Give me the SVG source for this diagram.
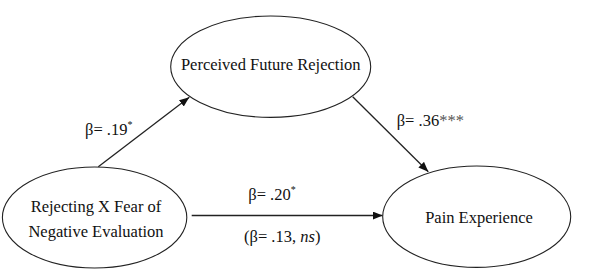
<svg xmlns="http://www.w3.org/2000/svg" width="600" height="276" viewBox="0 0 600 276">
<style>
.node{fill:#fff;stroke:#222;stroke-width:1.1}
.lbl{font-family:'Liberation Serif','Times New Roman',Times,serif;font-size:16.5px;fill:#111}
.edge{stroke:#222;stroke-width:1.3;fill:none;marker-end:url(#arr)}
.sup{font-size:10px}
.star{fill:#555}
</style>
<defs>
<marker id="arr" markerUnits="userSpaceOnUse" markerWidth="11" markerHeight="9" refX="10" refY="4" orient="auto">
<path d="M0,0 L10,4 L0,8 z" fill="#111"/>
</marker>
</defs>
<rect width="600" height="276" fill="#fff"/>
<g id="connectors">
<line class="edge" x1="98.3" y1="166.7" x2="189.3" y2="97.3"/>
<line class="edge" x1="352.7" y1="96.7" x2="428.3" y2="171.7"/>
<line class="edge" x1="191.7" y1="215.5" x2="382.7" y2="215.5"/>
<text class="lbl" font-family="Liberation Serif, serif" x="85" y="135">β= .19<tspan class="sup" dy="-7">*</tspan></text>
<text class="lbl" font-family="Liberation Serif, serif" x="396.7" y="126">β= .36<tspan class="star">***</tspan></text>
<text class="lbl" font-family="Liberation Serif, serif" x="248.3" y="200">β= .20<tspan class="sup" dy="-7">*</tspan></text>
<text class="lbl" font-family="Liberation Serif, serif" x="244" y="241.7">(β= .13, <tspan font-style="italic">ns</tspan>)</text>
</g>
<g id="perceived">
<ellipse class="node" cx="270.7" cy="66.7" rx="100" ry="50.7"/>
<text class="lbl" font-family="Liberation Serif, serif" x="270.7" y="70" text-anchor="middle">Perceived Future Rejection</text>
</g>
<g id="rejecting">
<ellipse class="node" cx="94.6" cy="217.5" rx="92.2" ry="50.5"/>
<text class="lbl" font-family="Liberation Serif, serif" x="96" y="211.7" text-anchor="middle">Rejecting X Fear of</text>
<text class="lbl" font-family="Liberation Serif, serif" x="96" y="236.7" text-anchor="middle">Negative Evaluation</text>
</g>
<g id="pain">
<ellipse class="node" cx="476.7" cy="216.7" rx="94" ry="50.7"/>
<text class="lbl" font-family="Liberation Serif, serif" x="479" y="223.3" text-anchor="middle">Pain Experience</text>
</g>
</svg>
